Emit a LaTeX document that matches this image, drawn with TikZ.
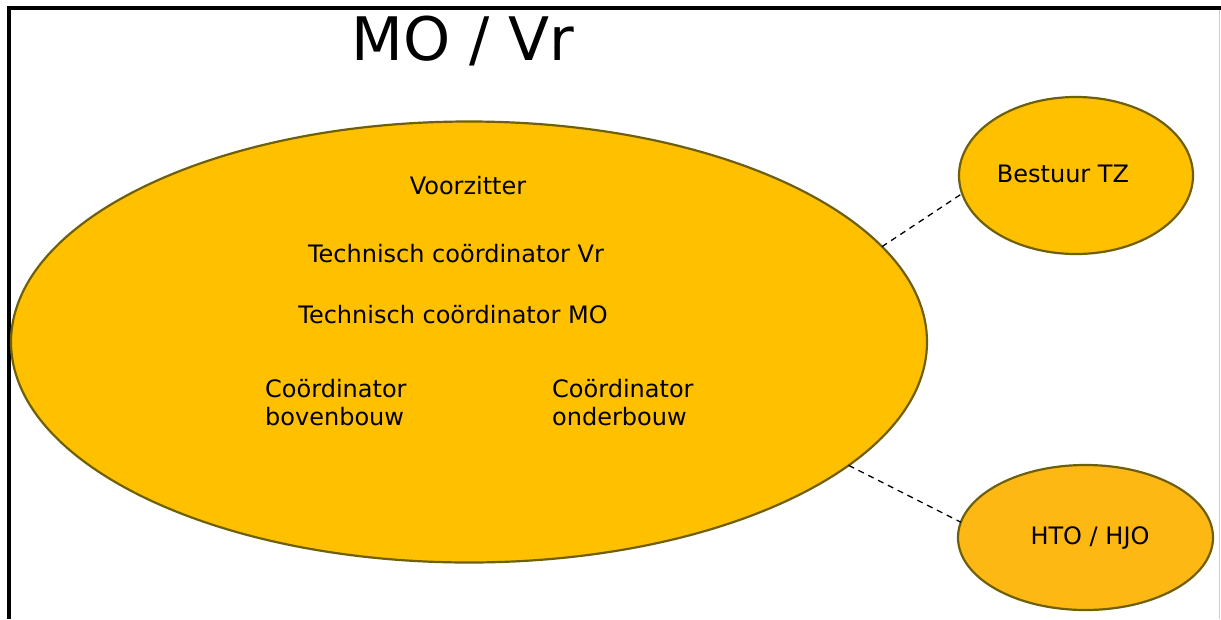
\documentclass[tikz,border=0pt]{standalone}
\usepackage{fontspec}
\setmainfont{DejaVu Sans}
\usetikzlibrary{shapes.geometric}
\definecolor{gold}{RGB}{255,192,0}
\definecolor{goldb}{RGB}{253,184,20}
\definecolor{olive}{RGB}{110,96,10}
\tikzset{
  blob/.style={ellipse, draw=olive, line width=2.2pt, inner sep=0pt, outer sep=0pt},
  lbl/.style={font=\fontsize{24}{28}\selectfont, inner sep=0pt, anchor=base, text=black},
  lbll/.style={font=\fontsize{24}{28}\selectfont, inner sep=0pt, anchor=base west, align=left, text=black},
  conn/.style={line width=1.3pt, dash pattern=on 6pt off 5pt}
}
\begin{document}
\begin{tikzpicture}[x=1pt,y=-1pt]
\useasboundingbox (0,0) rectangle (1221,619);
\fill[white] (0,0) rectangle (1221,619);
% frame
\draw[line width=4pt] (9,619) -- (9,8) -- (1221,8);
\draw[gray!40, line width=1pt] (1219.5,10) -- (1219.5,619);
% title
\node[font=\fontsize{60}{70}\selectfont, inner sep=0pt, anchor=base] (title) at (463,60) {MO / Vr};
% ellipses
\node[blob, fill=gold, minimum width=916pt, minimum height=441pt] (big) at (469,342) {};
\node[blob, fill=gold, minimum width=234pt, minimum height=157pt] (bestuur) at (1076,175.5) {};
\node[blob, fill=goldb, minimum width=255pt, minimum height=145pt] (hto) at (1085.5,537.5) {};
% connectors
\draw[conn] (big.13.5) -- (bestuur.189.5);
\draw[conn] (big.-18) -- (hto.173);
% texts
\node[lbl] (t1) at (468,194) {Voorzitter};
\node[lbl] (t2) at (456,262) {Technisch coördinator Vr};
\node[lbl] (t3) at (453,323) {Technisch coördinator MO};
\node[lbll] (t4) at (265,425) {Coördinator\\bovenbouw};
\node[lbll] (t5) at (552,425) {Coördinator\\onderbouw};
\node[lbl] (t6) at (1063,182) {Bestuur TZ};
\node[lbl] (t7) at (1090,544) {HTO / HJO};
\end{tikzpicture}
\end{document}
